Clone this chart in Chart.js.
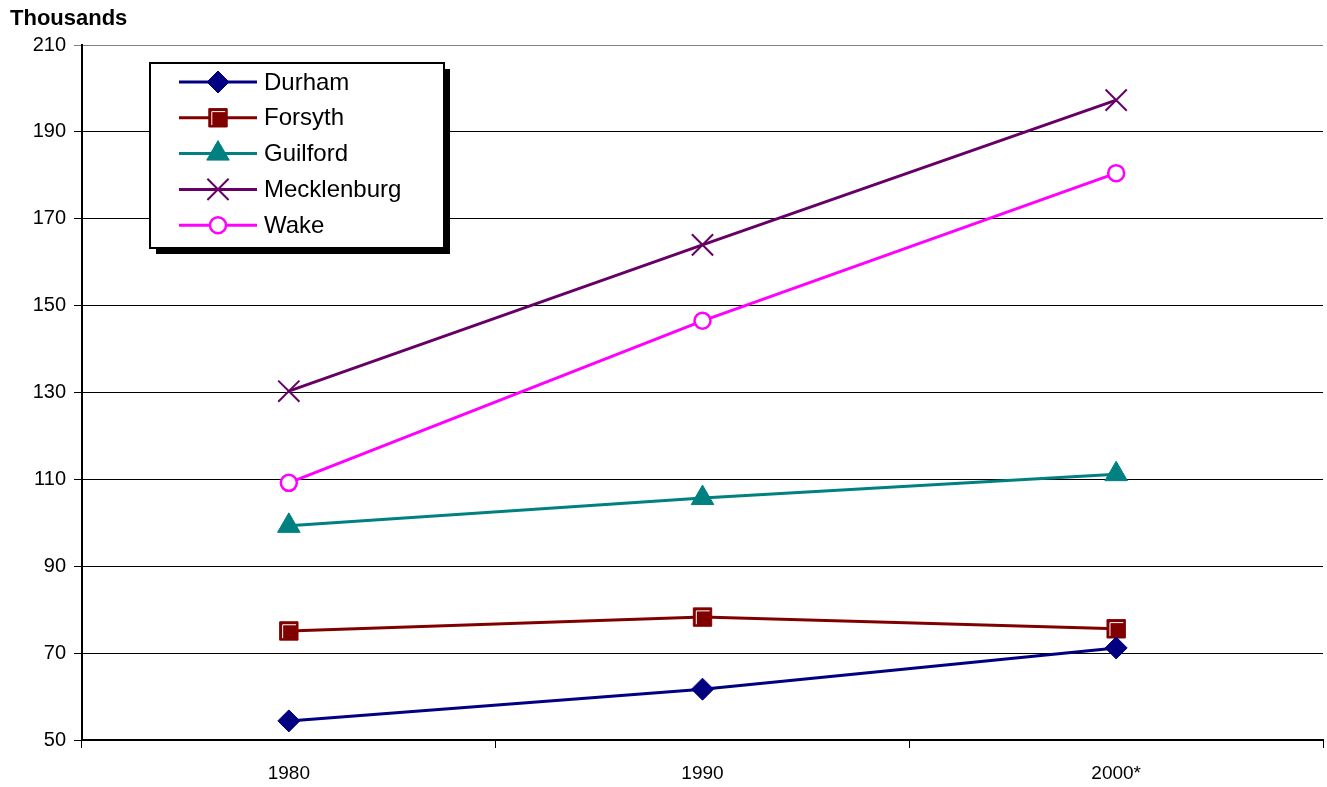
<!DOCTYPE html>
<html>
<head>
<meta charset="utf-8">
<script src="https://cdn.jsdelivr.net/npm/chart.js@4"></script>
<style>
  html, body { margin: 0; padding: 0; background: #fff; }
  #wrap { position: relative; width: 1327px; height: 787px; }
  #title { position: absolute; left: 10px; top: 5px; font: bold 22px "Liberation Sans", Arial, sans-serif; }
</style>
</head>
<body>
<div id="wrap">
  <div id="title">Thousands</div>
  <canvas id="chart" width="1327" height="787"></canvas>
</div>
<script>
const years = ['1980', '1990', '2000*'];
const durham = [54.4, 61.7, 71.2];
const forsyth = [75.1, 78.3, 75.6];
const guilford = [99.3, 105.7, 111.2];
const mecklenburg = [130.3, 164.0, 197.3];
const wake = [109.2, 146.5, 180.5];
const yTicks = [50, 70, 90, 110, 130, 150, 170, 190, 210];

const font = '"Liberation Sans", Arial, sans-serif';

const makeSet = (label, data, color, style, fill, radius, bw) => ({
    label: label,
    data: data,
    borderColor: color,
    backgroundColor: color,
    borderWidth: 3,
    pointStyle: style,
    pointRadius: radius,
    pointHoverRadius: radius,
    pointBackgroundColor: fill,
    pointBorderColor: color,
    pointBorderWidth: bw,
    tension: 0
});

const datasets = [
    makeSet('Durham', durham, '#000080', 'rectRot', '#000080', 11, 1),
    makeSet('Forsyth', forsyth, '#800000', 'rect', '#800000', 13, 1),
    makeSet('Guilford', guilford, '#008080', 'triangle', '#008080', 13, 1),
    makeSet('Mecklenburg', mecklenburg, '#660066', 'crossRot', '#660066', 15, 2),
    makeSet('Wake', wake, '#FF00FF', 'circle', '#ffffff', 8, 2.5)
];

// white highlight inside the Forsyth squares
const squareShine = (ctx, x, y, r) => {
    const s = Math.SQRT1_2 * r;
    ctx.save();
    ctx.strokeStyle = '#fff';
    ctx.lineWidth = 1;
    ctx.beginPath();
    ctx.moveTo(x - s + 3, y + s - 2);
    ctx.lineTo(x - s + 3, y - s + 3);
    ctx.lineTo(x + s - 2, y - s + 3);
    ctx.stroke();
    ctx.restore();
};

const shinePlugin = {
    id: 'shine',
    afterDatasetsDraw: chart => {
        const meta = chart.getDatasetMeta(1);
        meta.data.forEach(pt => squareShine(chart.ctx, pt.x, pt.y, chart.data.datasets[1].pointRadius));
    }
};

// boxed legend with drop shadow inside the plot area
const boxLegend = {
    id: 'boxLegend',
    afterDraw: chart => {
        const ctx = chart.ctx;
        const area = chart.chartArea;
        const x = area.left + 68, y = area.top + 18, w = 294, h = 185;
        ctx.save();
        ctx.fillStyle = '#000';
        ctx.fillRect(x + 6, y + 6, w, h);
        ctx.fillStyle = '#fff';
        ctx.fillRect(x, y, w, h);
        ctx.strokeStyle = '#000';
        ctx.lineWidth = 2;
        ctx.strokeRect(x, y, w, h);
        ctx.font = '24px ' + font;
        ctx.textBaseline = 'middle';
        chart.data.datasets.forEach((ds, i) => {
            const cy = y + 19 + i * 35.8;
            const lx = x + 29, rx = x + 107;
            const px = (lx + rx) / 2;
            ctx.strokeStyle = ds.borderColor;
            ctx.lineWidth = 3;
            ctx.beginPath();
            ctx.moveTo(lx, cy);
            ctx.lineTo(rx, cy);
            ctx.stroke();
            ctx.fillStyle = ds.pointBackgroundColor;
            ctx.strokeStyle = ds.pointBorderColor;
            ctx.lineWidth = ds.pointBorderWidth;
            Chart.helpers.drawPoint(ctx, {
                pointStyle: ds.pointStyle,
                radius: ds.pointRadius,
                borderWidth: ds.pointBorderWidth,
                rotation: 0
            }, px, cy);
            if (ds.pointStyle === 'rect') squareShine(ctx, px, cy, ds.pointRadius);
            ctx.fillStyle = '#000';
            ctx.fillText(ds.label, x + 114, cy + 1);
        });
        ctx.restore();
    }
};

new Chart(document.getElementById('chart'), {
    type: 'line',
    data: { labels: years, datasets: datasets },
    plugins: [shinePlugin, boxLegend],
    options: {
        responsive: false,
        animation: false,
        layout: { autoPadding: false, padding: { top: 45, right: 4, left: 0, bottom: 0 } },
        plugins: {
            legend: { display: false },
            tooltip: { enabled: false }
        },
        scales: {
            x: {
                offset: true,
                afterFit: axis => {
                    axis.height = 47;
                    axis.paddingLeft = 0;
                    axis.paddingRight = 0;
                },
                grid: {
                    offset: true,
                    drawOnChartArea: false,
                    color: '#000',
                    tickLength: 8
                },
                border: { color: '#000', width: 2 },
                ticks: {
                    color: '#000',
                    font: { family: font, size: 19 },
                    padding: 14
                }
            },
            y: {
                min: 50,
                max: 210,
                afterBuildTicks: axis => {
                    axis.ticks = yTicks.map(v => ({ value: v }));
                },
                afterFit: axis => { axis.width = 82; },
                grid: {
                    color: c => (c.tick && c.tick.value === 210) ? '#808080' : '#000',
                    lineWidth: 1,
                    tickLength: 8
                },
                border: { color: '#000', width: 2 },
                ticks: {
                    color: '#000',
                    font: { family: font, size: 20 },
                    padding: 8
                }
            }
        }
    }
});
</script>
</body>
</html>
